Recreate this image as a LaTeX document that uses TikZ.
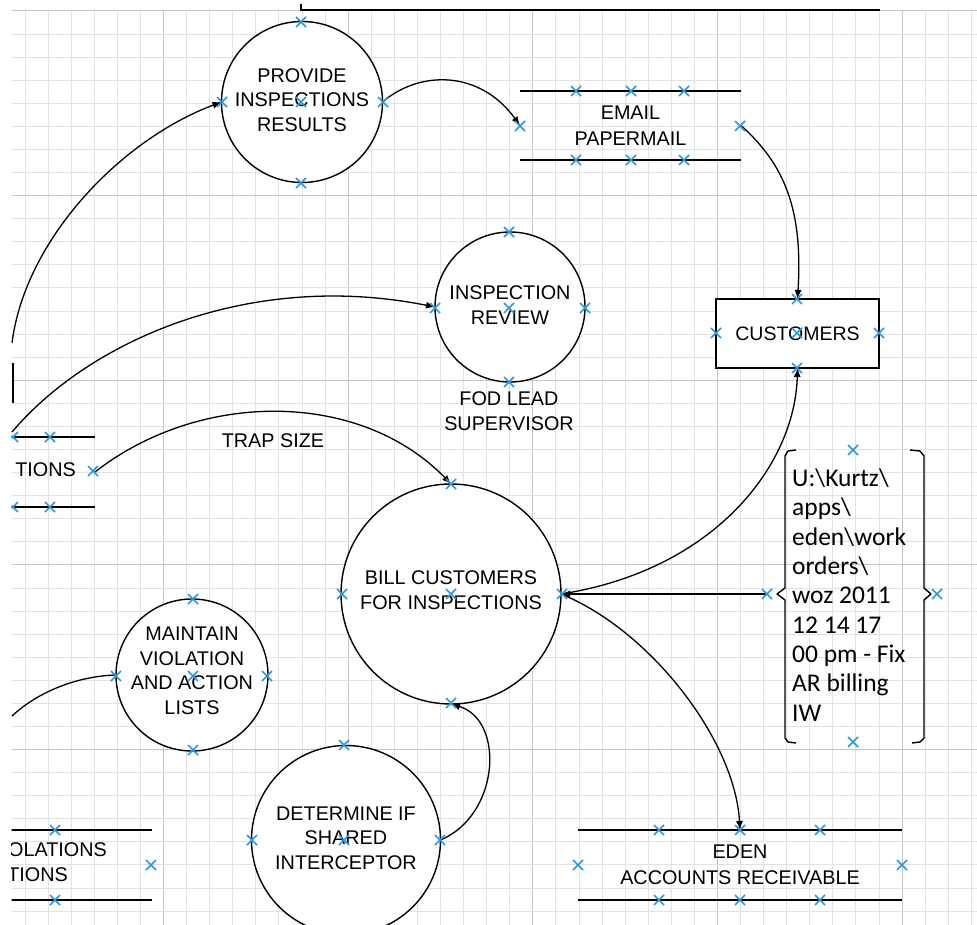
\documentclass[tikz,border=0pt]{standalone}
\usepackage{fontspec}
\setmainfont{Liberation Sans}
\newfontfamily\notefont{Carlito}
\usetikzlibrary{arrows.meta}
\definecolor{cpblue}{RGB}{45,150,220}
\definecolor{gminc}{RGB}{226,226,226}
\definecolor{gmajc}{RGB}{198,198,198}
\begin{document}
\begin{tikzpicture}[x=1pt,y=-1pt,
  proc/.style={circle, draw, line width=1.4pt, fill=white, inner sep=0pt, outer sep=0pt},
  entbox/.style={rectangle, draw, line width=1.4pt, fill=white, inner sep=0pt, outer sep=0pt},
  txt/.style={align=center, font=\fontsize{19.8}{24.5}\selectfont, inner sep=0pt},
  store/.style={draw=none, inner sep=0pt, outer sep=0pt, align=center, font=\fontsize{19.8}{25.5}\selectfont},
  storeline/.style={line width=1.6pt},
  arr/.style={line width=1.3pt, -{Latex[length=9pt,width=7pt]}},
  plainline/.style={line width=1.3pt},
  gmin/.style={draw=gminc, line width=1pt},
  gmaj/.style={draw=gmajc, line width=1pt},
  cp/.pic={\draw[cpblue, line width=1.6pt] (-5,-5)--(5,5) (-5,5)--(5,-5);}
]
\useasboundingbox (0,0) rectangle (977,925);
\begin{scope}
\clip (11.5,0) rectangle (977,925);
% grid
\foreach \i in {0,...,42}{
  \pgfmathsetmacro\xx{2+23.08*\i}
  \pgfmathtruncatemacro\m{mod(\i,8)}
  \ifnum\m=7 \draw[gmaj] (\xx,10)--(\xx,925); \else \draw[gmin] (\xx,10)--(\xx,925); \fi
}
\foreach \j in {0,...,40}{
  \pgfmathsetmacro\yy{11+23.08*\j}
  \pgfmathtruncatemacro\m{mod(\j,8)}
  \ifnum\m=0 \draw[gmaj] (12,\yy)--(977,\yy); \else \draw[gmin] (12,\yy)--(977,\yy); \fi
}
% top fragment
\draw[line width=1.8pt] (301,4)--(301,10)--(880,10);
\draw[line width=2.5pt] (13,363)--(13,403);

% processes
\node[proc, minimum size=161pt] (prov) at (302,102) {};
\node[txt] (provT) at (302,100) {PROVIDE\\INSPECTIONS\\RESULTS};
\node[proc, minimum size=150pt] (rev) at (510,307) {};
\node[txt] (revT) at (510,305) {INSPECTION\\REVIEW};
\node[txt] (fod) at (509,411) {FOD LEAD\\SUPERVISOR};
\node[proc, minimum size=220pt] (bill) at (451,594) {};
\node[txt] (billT) at (451,590) {BILL CUSTOMERS\\FOR INSPECTIONS};
\node[proc, minimum size=152pt] (maint) at (192,675) {};
\node[txt] (maintT) at (192,671) {MAINTAIN\\VIOLATION\\AND ACTION\\LISTS};
\node[proc, minimum size=189pt] (det) at (346,840) {};
\node[txt] (detT) at (346,838) {DETERMINE IF\\SHARED\\INTERCEPTOR};

% external entity
\node[entbox, minimum width=163pt, minimum height=69pt, font=\fontsize{19.5}{24}\selectfont] (cust) at (797.5,333.5) {CUSTOMERS};

% data stores
\node[store, minimum width=221pt, minimum height=69pt] (email) at (630.5,125.5) {EMAIL\\PAPERMAIL};
\draw[storeline] (email.north west)--(email.north east) (email.south west)--(email.south east);
\node[store, minimum width=324pt, minimum height=70pt] (eden) at (740,865) {EDEN\\ACCOUNTS RECEIVABLE};
\draw[storeline] (eden.north west)--(eden.north east) (eden.south west)--(eden.south east);
\node[store, minimum width=166pt, minimum height=70pt] (st1) at (12,472) {};
\draw[storeline] (st1.north west)--(st1.north east) (st1.south west)--(st1.south east);
\node[txt, anchor=east] (st1T) at (76,470) {TIONS};
\node[store, minimum width=280pt, minimum height=70pt] (st2) at (12,865) {};
\draw[storeline] (st2.north west)--(st2.north east) (st2.south west)--(st2.south east);
\node[txt, anchor=east] (st2Ta) at (107,850) {OLATIONS};
\node[txt, anchor=east] (st2Tb) at (68,875) {TIONS};

% note with braces
\node[align=left, anchor=west, inner sep=0pt, font=\notefont\fontsize{25.5}{29.3}\selectfont] (note) at (792,595)
  {U:\textbackslash Kurtz\textbackslash\\apps\textbackslash\\eden\textbackslash work\\orders\textbackslash\\woz 2011\\12 14 17\\00 pm - Fix\\AR billing\\IW};
\draw[line width=1.4pt, line join=round] (796,450)--(788,451)--(785,456)--(785,588)--(777,594)--(785,600)--(785,738)--(788,742)--(796,743);
\draw[line width=1.4pt, line join=round] (910,450)--(920,451)--(924,456)--(924,588)--(931,594)--(924,600)--(924,738)--(920,742)--(912,743);
\coordinate (noteL) at (767,594);

% free ends
\coordinate (inL1) at (12,343);
\coordinate (inL2) at (12,432);
\coordinate (inL3) at (12,716);

% connectors
\draw[arr] (prov.east) .. controls (420,70) and (480,70) .. (email.west);
\draw[arr] (email.east) .. controls (785,165) and (803,210) .. (cust.north);
\draw[arr] (inL1) .. controls (25,240) and (120,140) .. (prov.west);
\draw[arr] (inL2) .. controls (90,340) and (250,270) .. (rev.west);
\draw[arr] (st1.east) .. controls (200,390) and (360,390) .. (bill.north);
\node[txt] (trap) at (273,441) {TRAP SIZE};
\draw[arr] (bill.east) .. controls (715,570) and (795,465) .. (cust.south);
\draw[arr] (noteL) -- (bill.east);
\draw[arr] (bill.east) .. controls (650,630) and (735,740) .. (eden.north);
\draw[arr] (det.east) .. controls (500,815) and (505,720) .. (bill.south);
\draw[plainline] (inL3) .. controls (40,690) and (80,676) .. (maint.west);

% connection point marks
\foreach \p in {(301,22),(301,183),(222,102),(383,102),(301,102),
  (576,91),(631,91),(684,91),(576,160),(631,160),(684,160),(520,126),(740,126),
  (797,299),(797,368),(716,333),(879,333),(797,333),
  (509,232),(435,308),(585,308),(509,308),(509,382),
  (50,437),(50,507),(93,471),(13,437),(13,507),
  (451,484),(342,594),(451,594),(562,594),(451,703),
  (853,450),(853,742),(767,594),(937,594),
  (193,599),(116,676),(267,676),(193,676),(193,750),
  (344,745),(252,840),(440,840),(344,840),
  (55,830),(55,900),(151,865),
  (659,830),(740,830),(820,830),(659,900),(740,900),(820,900),(578,865),(902,865)}
  {\pic at \p {cp};}
\end{scope}
\end{tikzpicture}
\end{document}
